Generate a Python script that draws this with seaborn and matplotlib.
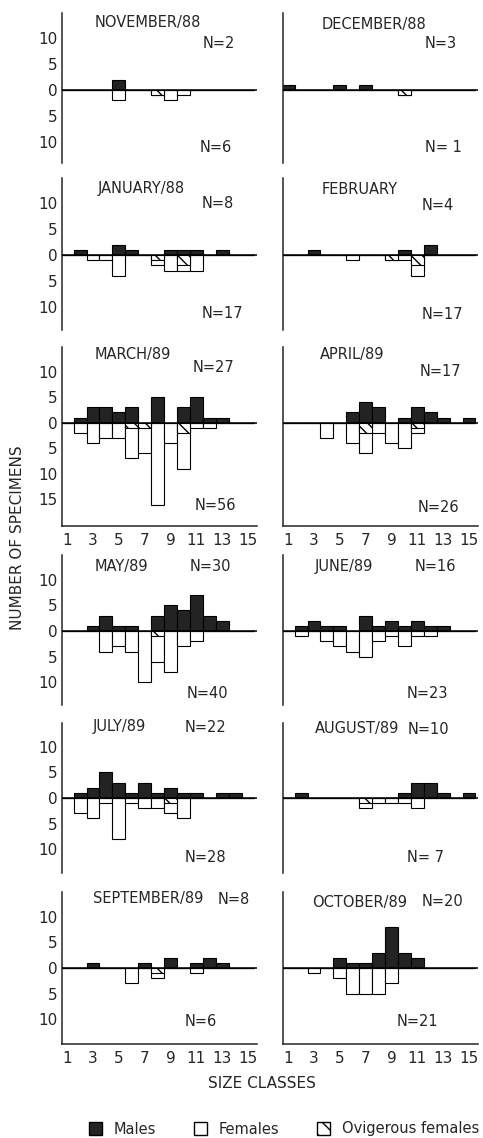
import matplotlib
matplotlib.use('Agg')
import matplotlib.pyplot as plt
from matplotlib.patches import Patch
import seaborn as sns

# size classes 1..15, counts
size_classes = list(range(1, 16))

males_nov88 = [0, 0, 0, 0, 2, 0, 0, 0, 0, 0, 0, 0, 0, 0, 0]
females_nov88 = [0, 0, 0, 0, 2, 0, 0, 0, 2, 1, 0, 0, 0, 0, 0]
ovig_nov88 = [0, 0, 0, 0, 0, 0, 0, 1, 0, 0, 0, 0, 0, 0, 0]

males_dec88 = [1, 0, 0, 0, 1, 0, 1, 0, 0, 0, 0, 0, 0, 0, 0]
females_dec88 = [0, 0, 0, 0, 0, 0, 0, 0, 0, 0, 0, 0, 0, 0, 0]
ovig_dec88 = [0, 0, 0, 0, 0, 0, 0, 0, 0, 1, 0, 0, 0, 0, 0]

males_jan = [0, 1, 0, 0, 2, 1, 0, 0, 1, 1, 1, 0, 1, 0, 0]
females_jan = [0, 0, 1, 1, 4, 0, 0, 1, 3, 1, 3, 0, 0, 0, 0]
ovig_jan = [0, 0, 0, 0, 0, 0, 0, 1, 0, 2, 0, 0, 0, 0, 0]

males_feb = [0, 0, 1, 0, 0, 0, 0, 0, 0, 1, 0, 2, 0, 0, 0]
females_feb = [0, 0, 0, 0, 0, 1, 0, 0, 0, 1, 2, 0, 0, 0, 0]
ovig_feb = [0, 0, 0, 0, 0, 0, 0, 0, 1, 0, 2, 0, 0, 0, 0]

males_mar = [0, 1, 3, 3, 2, 3, 0, 5, 0, 3, 5, 1, 1, 0, 0]
females_mar = [0, 2, 4, 3, 3, 6, 5, 16, 4, 7, 1, 1, 0, 0, 0]
ovig_mar = [0, 0, 0, 0, 0, 1, 1, 0, 0, 2, 0, 0, 0, 0, 0]

males_apr = [0, 0, 0, 0, 0, 2, 4, 3, 0, 1, 3, 2, 1, 0, 1]
females_apr = [0, 0, 0, 3, 0, 4, 4, 2, 4, 5, 1, 0, 0, 0, 0]
ovig_apr = [0, 0, 0, 0, 0, 0, 2, 0, 0, 0, 1, 0, 0, 0, 0]

males_may = [0, 0, 1, 3, 1, 1, 0, 3, 5, 4, 7, 3, 2, 0, 0]
females_may = [0, 0, 0, 4, 3, 4, 10, 5, 8, 3, 2, 0, 0, 0, 0]
ovig_may = [0, 0, 0, 0, 0, 0, 0, 1, 0, 0, 0, 0, 0, 0, 0]

males_jun = [0, 1, 2, 1, 1, 0, 3, 1, 2, 1, 2, 1, 1, 0, 0]
females_jun = [0, 1, 0, 2, 3, 4, 5, 2, 1, 3, 1, 1, 0, 0, 0]
ovig_jun = [0, 0, 0, 0, 0, 0, 0, 0, 0, 0, 0, 0, 0, 0, 0]

males_jul = [0, 1, 2, 5, 3, 1, 3, 1, 2, 1, 1, 0, 1, 1, 0]
females_jul = [0, 3, 4, 1, 8, 1, 2, 2, 2, 4, 0, 0, 0, 0, 0]
ovig_jul = [0, 0, 0, 0, 0, 0, 0, 0, 1, 0, 0, 0, 0, 0, 0]

males_aug = [0, 1, 0, 0, 0, 0, 0, 0, 0, 1, 3, 3, 1, 0, 1]
females_aug = [0, 0, 0, 0, 0, 0, 1, 1, 1, 1, 2, 0, 0, 0, 0]
ovig_aug = [0, 0, 0, 0, 0, 0, 1, 0, 0, 0, 0, 0, 0, 0, 0]

males_sep = [0, 0, 1, 0, 0, 0, 1, 0, 2, 0, 1, 2, 1, 0, 0]
females_sep = [0, 0, 0, 0, 0, 3, 0, 1, 0, 0, 1, 0, 0, 0, 0]
ovig_sep = [0, 0, 0, 0, 0, 0, 0, 1, 0, 0, 0, 0, 0, 0, 0]

males_oct = [0, 0, 0, 0, 2, 1, 1, 3, 8, 3, 2, 0, 0, 0, 0]
females_oct = [0, 0, 1, 0, 2, 5, 5, 5, 3, 0, 0, 0, 0, 0, 0]
ovig_oct = [0, 0, 0, 0, 0, 0, 0, 0, 0, 0, 0, 0, 0, 0, 0]

titles = ["NOVEMBER/88", "DECEMBER/88", "JANUARY/88", "FEBRUARY", "MARCH/89", "APRIL/89",
          "MAY/89", "JUNE/89", "JULY/89", "AUGUST/89", "SEPTEMBER/89", "OCTOBER/89"]
n_top = ["N=2", "N=3", "N=8", "N=4", "N=27", "N=17", "N=30", "N=16", "N=22", "N=10", "N=8", "N=20"]
n_bottom = ["N=6", "N= 1", "N=17", "N=17", "N=56", "N=26", "N=40", "N=23", "N=28", "N= 7", "N=6", "N=21"]

panels = [
    (males_nov88, females_nov88, ovig_nov88), (males_dec88, females_dec88, ovig_dec88),
    (males_jan, females_jan, ovig_jan), (males_feb, females_feb, ovig_feb),
    (males_mar, females_mar, ovig_mar), (males_apr, females_apr, ovig_apr),
    (males_may, females_may, ovig_may), (males_jun, females_jun, ovig_jun),
    (males_jul, females_jul, ovig_jul), (males_aug, females_aug, ovig_aug),
    (males_sep, females_sep, ovig_sep), (males_oct, females_oct, ovig_oct),
]

# layout, in pixels of the 483x1138 picture
W, H = 483, 1138
row_spans = [(13, 163, -14.0, 14.8), (178, 330, -14.4, 14.8), (347, 526, -20.2, 14.8),
             (555, 705, -14.4, 14.8), (723, 873, -14.7, 14.7), (892, 1044, -14.9, 14.9)]
col_left = [62, 283]
ax_width = 195
title_pos = [(95, 22), (322, 24), (98, 188), (322, 190), (95, 354), (320, 355),
             (95, 566), (315, 566), (93, 727), (315, 729), (93, 899), (312, 902)]
ntop_pos = [(203, 43), (425, 43), (202, 203), (422, 205), (193, 367), (420, 372),
            (190, 566), (415, 566), (185, 727), (408, 729), (218, 899), (422, 902)]
nbot_pos = [(200, 147), (425, 148), (202, 313), (422, 315), (195, 505), (418, 507),
            (187, 693), (407, 693), (185, 857), (407, 857), (185, 1021), (397, 1022)]

male_color = '#232323'
ovig_hatch = '\\\\\\'

sns.set_style('white')
plt.rcParams['font.family'] = ['DejaVu Sans']
plt.rcParams['hatch.linewidth'] = 1.0


def fx(x):
    return x / W


def fy(y):
    return 1 - y / H


def bars(ax, values, fc, hatch=None):
    sns.barplot(x=size_classes, y=values, native_scale=True, orient='x', width=1,
                color=fc, saturation=1, edgecolor='black', linewidth=0.8,
                errorbar=None, hatch=hatch, ax=ax)


fig = plt.figure(figsize=(W / 100, H / 100), dpi=100)

for i, (males, females, ovig) in enumerate(panels):
    row, col = divmod(i, 2)
    top, bottom, ylo, yhi = row_spans[row]
    ax = fig.add_axes([fx(col_left[col]), fy(bottom), ax_width / W, (bottom - top) / H])

    fem_total = [-(f + o) for f, o in zip(females, ovig)]
    bars(ax, males, male_color)
    bars(ax, fem_total, 'white')
    bars(ax, [-o for o in ovig], 'white', hatch=ovig_hatch)

    ax.axhline(0, color='black', lw=1.1, zorder=3)
    ax.set_xlim(0.6, 15.7)
    ax.set_ylim(ylo, yhi)
    ax.set_xlabel('')
    ax.set_ylabel('')
    for s in ['top', 'right']:
        ax.spines[s].set_visible(False)
    ax.spines['left'].set_linewidth(1.1)

    yt = [10, 5, 0, -5, -10] + ([-15] if row == 2 else [])
    ax.set_yticks(yt)
    ax.set_yticklabels([str(abs(v)) for v in yt] if col == 0 else [])
    ax.tick_params(axis='y', direction='in', length=6, width=1, labelsize=11, pad=3)

    bottom_axis = row in (2, 5)
    ax.spines['bottom'].set_visible(bottom_axis)
    if bottom_axis:
        ax.spines['bottom'].set_linewidth(1.1)
        ax.set_xticks(list(range(1, 16, 2)))
        ax.set_xticks([c + 0.5 for c in size_classes[:-1]], minor=True)
        ax.tick_params(axis='x', which='major', length=0, labelsize=11, pad=5)
        ax.tick_params(axis='x', which='minor', direction='in', length=5, width=1)
    else:
        ax.set_xticks([])

    fig.text(fx(title_pos[i][0]), fy(title_pos[i][1]), titles[i], ha='left', va='center', fontsize=10.5)
    fig.text(fx(ntop_pos[i][0]), fy(ntop_pos[i][1]), n_top[i], ha='left', va='center', fontsize=10.5)
    fig.text(fx(nbot_pos[i][0]), fy(nbot_pos[i][1]), n_bottom[i], ha='left', va='center', fontsize=10.5)

fig.text(fx(18), fy(538), 'NUMBER OF SPECIMENS', rotation=90, ha='center', va='center', fontsize=11)
fig.text(fx(262), fy(1083), 'SIZE CLASSES', ha='center', va='center', fontsize=11)

handles = [Patch(fc=male_color, ec='black'), Patch(fc='white', ec='black'),
           Patch(fc='white', ec='black', hatch='\\\\')]
fig.legend(handles=handles, labels=['Males', 'Females', 'Ovigerous females'], loc='center',
           bbox_to_anchor=(fx(284), fy(1129)), ncol=3, frameon=False, fontsize=10.5,
           handlelength=0.9, handleheight=0.9, handletextpad=0.8, columnspacing=2.6,
           borderpad=0.2)

fig.savefig('out.png', dpi=100)
